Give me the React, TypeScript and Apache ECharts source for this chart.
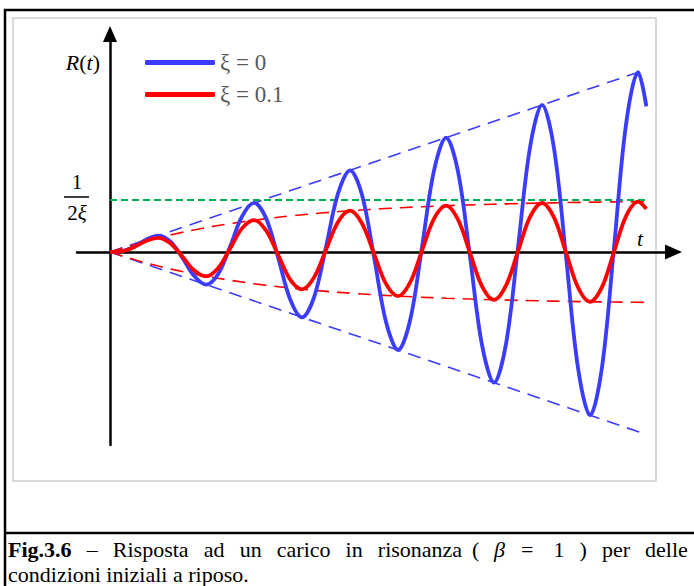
import React, { useEffect, useRef } from 'react';
import * as echarts from 'echarts';

// time samples (t), read along the horizontal axis
const tValues = [
  0, 0.785, 1.571, 2.356, 3.142, 3.927, 4.712, 5.498, 6.283, 7.069, 7.854, 8.639,
  9.425, 10.21, 10.996, 11.781, 12.566, 13.352, 14.137, 14.923, 15.708, 16.493,
  17.279, 18.064, 18.85, 19.635, 20.42, 21.206, 21.991, 22.777, 23.562, 24.347,
  25.133, 25.918, 26.704, 27.489, 28.274, 29.06, 29.845, 30.631, 31.416, 32.201,
  32.987, 33.772, 34.558, 35.1,
];
// ξ = 0 response
const blueValues = [
  0, 0.076, 0.5, 1.187, 1.571, 1.035, -0.5, -2.297, -3.142, -2.146, 0.5, 3.408,
  4.712, 3.256, -0.5, -4.519, -6.283, -4.367, 0.5, 5.63, 7.854, 5.478,
  -0.5, -6.74, -9.425, -6.588, 0.5, 7.851, 10.996, 7.699, -0.5, -8.962,
  -12.566, -8.81, 0.5, 10.072, 14.137, 9.921, -0.5, -11.183, -15.708, -11.031,
  0.5, 12.294, 17.279, 14.0,
];
// ξ = 0.1 response
const redValues = [
  0, 0.073, 0.463, 1.06, 1.354, 0.867, -0.387, -1.763, -2.342, -1.562, 0.319, 2.267,
  3.063, 2.077, -0.259, -2.629, -3.589, -2.458, 0.208, 2.888, 3.972, 2.74,
  -0.166, -3.073, -4.251, -2.948, 0.131, 3.206, 4.455, 3.102, -0.103, -3.301,
  -4.603, -3.216, 0.081, 3.368, 4.711, 3.3, -0.063, -3.417, -4.79, -3.362,
  0.049, 3.451, 4.847, 4.137,
];
// envelope of the ξ = 0.1 response
const redEnvT = [0, 2, 4, 6, 8, 10, 12, 14, 16, 18, 20, 22, 24, 26, 28, 30, 32, 34, 35.1];
const redEnvValues = [
  0, 0.906, 1.648, 2.256, 2.753, 3.161, 3.494, 3.767, 3.991, 4.174, 4.323, 4.446,
  4.546, 4.629, 4.696, 4.751, 4.796, 4.833, 4.851,
];
// envelope of the ξ = 0 response
const blueEnvT = [0, 35.1];
const blueEnvValues = [0, 17.55];
// level 1/(2ξ)
const levelT = [0, 35.1];
const levelValue = 5;

const legendNames = ['ξ = 0', 'ξ = 0.1'];

const BLUE = '#3c3cff';
const RED = '#ff0000';
const GREEN = '#00b050';

const pairs = (xs: number[], ys: number[], sign = 1) => xs.map((x, i) => [x, sign * ys[i]]);

export default function App() {
  const ref = useRef<HTMLDivElement>(null);
  useEffect(() => {
    const chart = echarts.init(ref.current!, null, { renderer: 'svg' });
    const dashed = (color: string, dash: number[], w = 1.6) => ({
      type: 'line',
      showSymbol: false,
      silent: true,
      lineStyle: { color, width: w, type: dash },
      z: 2,
    });
    const serif = "'Liberation Serif', 'Times New Roman', serif";
    const option: any = {
      animation: false,
      backgroundColor: '#ffffff',
      grid: { left: 77, top: 42, width: 588, height: 403 },
      xAxis: {
        type: 'value',
        min: -2.16,
        max: 36.32,
        axisLine: {
          onZero: true,
          lineStyle: { color: '#000', width: 2.5 },
          symbol: ['none', 'triangle'],
          symbolSize: [15, 17],
          symbolOffset: [0, 8.5],
        },
        axisTick: { show: false },
        axisLabel: { show: false },
        splitLine: { show: false },
      },
      yAxis: {
        type: 'value',
        min: -18.56,
        max: 20.19,
        axisLine: {
          onZero: true,
          lineStyle: { color: '#000', width: 2.5 },
          symbol: ['none', 'triangle'],
          symbolSize: [14, 16],
          symbolOffset: [0, 8],
        },
        axisTick: { show: false },
        axisLabel: { show: false },
        splitLine: { show: false },
      },
      legend: {
        data: legendNames,
        orient: 'vertical',
        left: 140,
        top: 46,
        itemGap: 9,
        itemWidth: 70,
        itemHeight: 5,
        icon: 'roundRect',
        textStyle: { color: '#595959', fontFamily: serif, fontSize: 23 },
        selectedMode: false,
      },
      series: [
        { ...dashed(BLUE, [13, 8]), data: pairs(blueEnvT, blueEnvValues) },
        { ...dashed(BLUE, [13, 8]), data: pairs(blueEnvT, blueEnvValues, -1) },
        { ...dashed(RED, [13, 8]), smooth: 0.4, data: pairs(redEnvT, redEnvValues) },
        { ...dashed(RED, [13, 8]), smooth: 0.4, data: pairs(redEnvT, redEnvValues, -1) },
        { ...dashed(GREEN, [7, 4], 1.8), data: levelT.map((t) => [t, levelValue]) },
        {
          name: legendNames[0],
          type: 'line',
          smooth: 0.34,
          showSymbol: false,
          color: BLUE,
          lineStyle: { color: BLUE, width: 3.8 },
          data: pairs(tValues, blueValues),
          z: 3,
        },
        {
          name: legendNames[1],
          type: 'line',
          smooth: 0.34,
          showSymbol: false,
          color: RED,
          lineStyle: { color: RED, width: 3.8 },
          data: pairs(tValues, redValues),
          z: 4,
        },
      ],
      graphic: {
        elements: [
          {
            type: 'rect',
            z: -10,
            silent: true,
            shape: { x: 5, y: 10, width: 720, height: 620 },
            style: { fill: 'none', stroke: '#000', lineWidth: 2.5 },
          },
          {
            type: 'line',
            z: -10,
            silent: true,
            shape: { x1: 5, y1: 533, x2: 720, y2: 533 },
            style: { stroke: '#000', lineWidth: 2.5 },
          },
          {
            type: 'rect',
            z: -10,
            silent: true,
            shape: { x: 13, y: 18, width: 643, height: 463 },
            style: { fill: 'none', stroke: '#d9d9d9', lineWidth: 2 },
          },
          {
            type: 'text',
            x: 100,
            y: 62,
            style: {
              text: '{i|R}{n|(}{i|t}{n|)}',
              align: 'right',
              verticalAlign: 'middle',
              rich: {
                i: { fontFamily: serif, fontStyle: 'italic', fontSize: 22, fill: '#000' },
                n: { fontFamily: serif, fontSize: 22, fill: '#000' },
              },
            },
          },
          {
            type: 'text',
            x: 77,
            y: 182,
            style: { text: '1', fontFamily: serif, fontSize: 21, fill: '#000', align: 'center', verticalAlign: 'middle' },
          },
          {
            type: 'line',
            shape: { x1: 64, y1: 197, x2: 89, y2: 197 },
            style: { stroke: '#000', lineWidth: 1.5 },
          },
          {
            type: 'text',
            x: 77,
            y: 213,
            style: {
              text: '{n|2}{i|ξ}',
              align: 'center',
              verticalAlign: 'middle',
              rich: {
                i: { fontFamily: serif, fontStyle: 'italic', fontSize: 21, fill: '#000' },
                n: { fontFamily: serif, fontSize: 21, fill: '#000' },
              },
            },
          },
          {
            type: 'text',
            x: 640,
            y: 238,
            style: { text: 't', fontFamily: serif, fontStyle: 'italic', fontSize: 22, fill: '#000', align: 'center', verticalAlign: 'middle' },
          },
          // caption, line 1 (justified)
          ...[
            ['Fig.3.6', 8, 'bold', 'normal'],
            ['–', 86.7, 'normal', 'normal'],
            ['Risposta', 112.8, 'normal', 'normal'],
            ['ad', 203.7, 'normal', 'normal'],
            ['un', 239.7, 'normal', 'normal'],
            ['carico', 276.8, 'normal', 'normal'],
            ['in', 345.6, 'normal', 'normal'],
            ['risonanza', 377.8, 'normal', 'normal'],
            ['(', 472, 'normal', 'normal'],
            ['β', 494, 'normal', 'italic'],
            ['=', 521, 'normal', 'normal'],
            ['1', 553.4, 'normal', 'normal'],
            [')', 579.5, 'normal', 'normal'],
            ['per', 601.9, 'normal', 'normal'],
            ['delle', 645.1, 'normal', 'normal'],
          ].map(([w, x, fw, fs]) => ({
            type: 'text',
            x: x as number,
            y: 549,
            style: {
              text: w as string,
              fontFamily: serif,
              fontSize: 22,
              fontWeight: fw as string,
              fontStyle: fs as string,
              fill: '#000',
              align: 'left',
              verticalAlign: 'middle',
            },
          })),
          {
            type: 'text',
            x: 8,
            y: 574,
            style: {
              text: 'condizioni iniziali a riposo.',
              fontFamily: serif,
              fontSize: 22,
              fill: '#000',
              align: 'left',
              verticalAlign: 'middle',
            },
          },
        ],
      },
    };
    chart.setOption(option);
    return () => chart.dispose();
  }, []);
  return (
    <div
      ref={ref}
      style={{ position: 'fixed', left: 0, top: 0, width: 694, height: 586, background: '#fff' }}
    />
  );
}
